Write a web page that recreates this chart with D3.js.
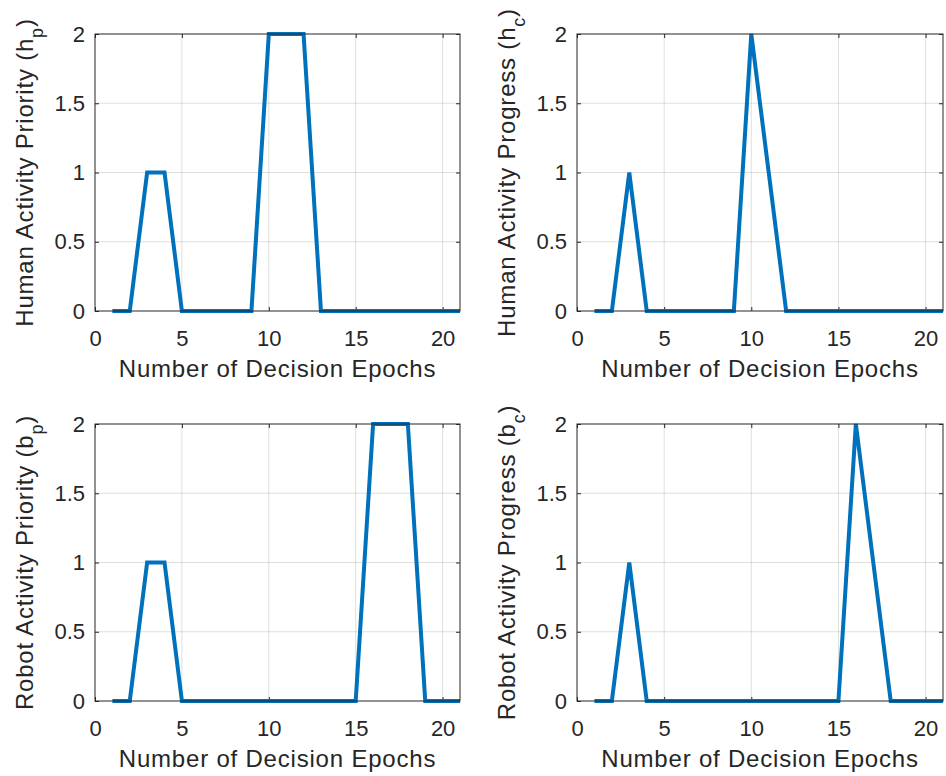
<!DOCTYPE html>
<html>
<head>
<meta charset="utf-8">
<script src="https://cdn.jsdelivr.net/npm/d3@7"></script>
<style>
  html, body { margin: 0; padding: 0; background: #ffffff; }
  svg { display: block; }
  text { font-family: "Liberation Sans", Arial, Helvetica, sans-serif; fill: #262626; }
</style>
</head>
<body>
<svg id="chart" width="946" height="776"></svg>
<script>
// ---- data ----
const epochs = [1,2,3,4,5,6,7,8,9,10,11,12,13,14,15,16,17,18,19,20,21];
const humanPriority = [0,0,1,1,0,0,0,0,0,2,2,2,0,0,0,0,0,0,0,0,0];
const humanProgress = [0,0,1,0,0,0,0,0,0,2,1,0,0,0,0,0,0,0,0,0,0];
const robotPriority = [0,0,1,1,0,0,0,0,0,0,0,0,0,0,0,2,2,2,0,0,0];
const robotProgress = [0,0,1,0,0,0,0,0,0,0,0,0,0,0,0,2,1,0,0,0,0];
const xTicks = [0,5,10,15,20];
const yTicks = [0,0.5,1,1.5,2];
const xLabel = "Number of Decision Epochs";
const panelsDef = [
  { values: humanPriority, main: "Human Activity Priority (h", sub: "p" },
  { values: humanProgress, main: "Human Activity Progress (h", sub: "c" },
  { values: robotPriority, main: "Robot Activity Priority (b", sub: "p" },
  { values: robotProgress, main: "Robot Activity Progress (b", sub: "c" }
];

// ---- layout ----
const boxes = [
  { left: 95, right: 460, top: 34, bottom: 311 },
  { left: 577, right: 943, top: 34, bottom: 311 },
  { left: 95, right: 460, top: 424, bottom: 701 },
  { left: 577, right: 943, top: 424, bottom: 701 }
];

const svg = d3.select("#chart");
const lineColor = "#0072BD";
const axisColor = "#262626";

panelsDef.forEach((p, i) => {
  const b = boxes[i];
  const x = d3.scaleLinear().domain([0, 21]).range([b.left, b.right]);
  const y = d3.scaleLinear().domain([0, 2]).range([b.bottom, b.top]);
  const g = svg.append("g");

  // grid
  g.selectAll(".vg").data(xTicks.filter(t => t > 0)).enter().append("line")
    .attr("x1", d => x(d)).attr("x2", d => x(d))
    .attr("y1", b.top).attr("y2", b.bottom)
    .attr("stroke", axisColor).attr("stroke-opacity", 0.15).attr("stroke-width", 1);
  g.selectAll(".hg").data(yTicks.filter(t => t > 0 && t < 2)).enter().append("line")
    .attr("y1", d => y(d)).attr("y2", d => y(d))
    .attr("x1", b.left).attr("x2", b.right)
    .attr("stroke", axisColor).attr("stroke-opacity", 0.15).attr("stroke-width", 1);

  // axes via d3 axis (inward ticks)
  const tl = 4;
  const fmt = d3.format("~g");
  const bottomAxis = g.append("g").attr("transform", `translate(0,${b.bottom})`)
    .call(d3.axisBottom(x).tickValues(xTicks).tickSize(-tl).tickPadding(tl + 14).tickFormat(fmt));
  const topAxis = g.append("g").attr("transform", `translate(0,${b.top})`)
    .call(d3.axisTop(x).tickValues(xTicks).tickSize(-tl).tickFormat(""));
  const leftAxis = g.append("g").attr("transform", `translate(${b.left},0)`)
    .call(d3.axisLeft(y).tickValues(yTicks).tickSize(-tl).tickPadding(tl + 10).tickFormat(fmt));
  const rightAxis = g.append("g").attr("transform", `translate(${b.right},0)`)
    .call(d3.axisRight(y).tickValues(yTicks).tickSize(-tl).tickFormat(""));
  [bottomAxis, topAxis, leftAxis, rightAxis].forEach(a => {
    a.select(".domain").remove();
    a.selectAll(".tick line").attr("stroke", axisColor).attr("stroke-width", 1);
    a.selectAll(".tick text")
      .style("font-family", '"Liberation Sans", Arial, sans-serif')
      .style("font-size", "22px").attr("fill", axisColor);
  });
  bottomAxis.selectAll(".tick text").attr("dy", "0.71em").attr("y", 19);
  leftAxis.selectAll(".tick text").attr("x", -10);

  // data line
  const line = d3.line().x((d, k) => x(epochs[k])).y(d => y(d));
  g.append("path").datum(p.values)
    .attr("d", line)
    .attr("fill", "none")
    .attr("stroke", lineColor)
    .attr("stroke-width", 4)
    .attr("stroke-linejoin", "miter");

  // box
  g.append("rect")
    .attr("x", b.left).attr("y", b.top)
    .attr("width", b.right - b.left).attr("height", b.bottom - b.top)
    .attr("fill", "none").attr("stroke", axisColor).attr("stroke-width", 1);

  // x label
  g.append("text")
    .attr("x", (b.left + b.right) / 2).attr("y", b.bottom + 66)
    .attr("text-anchor", "middle")
    .style("font-size", "24px").style("letter-spacing", "0.8px")
    .text(xLabel);

  // y label
  const cy = (b.top + b.bottom) / 2;
  const yl = g.append("text")
    .attr("transform", `translate(${b.left - 62},${cy}) rotate(-90)`)
    .attr("text-anchor", "middle")
    .style("font-size", "24px").style("letter-spacing", "0.8px");
  yl.append("tspan").text(p.main);
  yl.append("tspan").attr("dy", 10).style("font-size", "18px").text(p.sub);
  yl.append("tspan").attr("dy", -10).text(")");
});
</script>
</body>
</html>
